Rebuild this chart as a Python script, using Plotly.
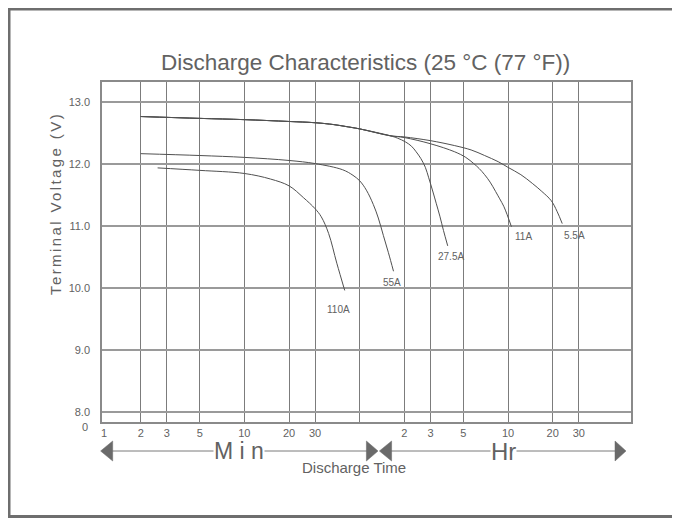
import numpy as np
import plotly.graph_objects as go

# ---- data (discharge time in minutes, terminal voltage in V) ----
series_names = ["110A", "55A", "27.5A", "11A", "5.5A"]

t_110A = [2.6, 5, 10, 15, 20, 25, 30, 33, 37, 42, 47.5]
v_110A = [11.94, 11.90, 11.85, 11.76, 11.65, 11.46, 11.28, 11.15, 10.88, 10.40, 9.96]

t_55A = [2, 5, 10, 20, 30, 46, 54, 60, 66.5, 74, 80, 86.5, 93.6, 101.3]
v_55A = [12.17, 12.14, 12.11, 12.06, 12.01, 11.91, 11.82, 11.73, 11.58, 11.35, 11.13, 10.85, 10.57, 10.27]

t_27_5A = [2, 5, 10, 20, 30, 40, 48, 60, 96, 108, 122, 134, 144, 155, 166, 175, 187, 197, 208, 220, 235]
v_27_5A = [12.77, 12.74, 12.72, 12.69, 12.67, 12.64, 12.61, 12.57, 12.46, 12.42, 12.36, 12.29, 12.20, 12.09,
           11.95, 11.78, 11.55, 11.36, 11.16, 10.93, 10.68]

t_11A = [2, 5, 10, 20, 30, 40, 48, 60, 96, 120, 180, 262, 311, 352, 383, 417, 454, 494, 527, 561, 590, 632]
v_11A = [12.77, 12.74, 12.72, 12.69, 12.67, 12.64, 12.61, 12.57, 12.46, 12.43, 12.33, 12.20, 12.11, 12.01,
         11.93, 11.83, 11.71, 11.56, 11.44, 11.32, 11.19, 10.99]

t_5_5A = [2, 5, 10, 20, 30, 40, 48, 60, 96, 120, 180, 262, 338, 417, 515, 598, 732, 874, 1013, 1173, 1282, 1391]
v_5_5A = [12.77, 12.74, 12.72, 12.69, 12.67, 12.64, 12.61, 12.57, 12.46, 12.44, 12.38, 12.30, 12.23, 12.14,
          12.04, 11.95, 11.83, 11.69, 11.56, 11.41, 11.24, 11.04]

x_tickvals = [2, 3, 5, 10, 20, 30, 60, 120, 180, 300, 600, 1200, 1800]
x_ticktext = ["2", "3", "5", "10", "20", "30", "", "2", "3", "5", "10", "20", "30"]
y_tickvals = [8, 9, 10, 11, 12, 13]
y_ticktext = ["8.0", "9.0", "10.0", "11.0", "12.0", "13.0"]

title_text = "Discharge Characteristics (25 °C (77 °F))"
ytitle_text = "Terminal Voltage (V)"
xtitle_text = "Discharge Time"

# ---- styling ----
FONT = "Liberation Sans, Arial, sans-serif"
TXT = "#626262"
CURVE = "#505050"
OFF = 8                      # page body offset of the figure
W, H = 680 - OFF, 518 - OFF  # figure size
L, R, T, B = 102, 631, 82, 422  # plot area in window pixels


def px(x):
    return (x - L) / (R - L)


def py(y):
    return (B - y) / (B - T)


fig = go.Figure()

curves = [(t_110A, v_110A, "110A", (-6, -19)),
          (t_55A, v_55A, "55A", (-2, -11)),
          (t_27_5A, v_27_5A, "27.5A", (3, -11)),
          (t_11A, v_11A, "11A", (12, -10)),
          (t_5_5A, v_5_5A, "5.5A", (12, -12))]

annotations = []
for t, v, name, (dx, dy) in curves:
    fig.add_trace(go.Scatter(x=t, y=v, mode="lines", name=name,
                             line=dict(color=CURVE, width=1, shape="spline", smoothing=1.0),
                             showlegend=False, hoverinfo="skip"))
    annotations.append(dict(x=np.log10(t[-1]), y=v[-1], xref="x", yref="y",
                            text=name, showarrow=False, xshift=dx, yshift=dy,
                            font=dict(family=FONT, size=10, color=TXT)))

annotations += [
    dict(x=px(365), y=py(63), xref="paper", yref="paper", text=title_text, showarrow=False,
         font=dict(family=FONT, size=22.5, color=TXT), xanchor="center", yanchor="middle"),
    dict(x=px(55), y=py(204), xref="paper", yref="paper",
         text='<span style="letter-spacing:2.4px">' + ytitle_text + '</span>', showarrow=False,
         textangle=-90, font=dict(family=FONT, size=15, color=TXT), xanchor="center", yanchor="middle"),
    dict(x=px(354), y=py(467), xref="paper", yref="paper", text=xtitle_text, showarrow=False,
         font=dict(family=FONT, size=15, color=TXT), xanchor="center", yanchor="middle"),
    dict(x=px(238.5), y=py(451.5), xref="paper", yref="paper", text="M i n", showarrow=False,
         font=dict(family=FONT, size=23, color=TXT), xanchor="center", yanchor="middle",
         bgcolor="white", borderpad=0),
    dict(x=px(503.5), y=py(451.5), xref="paper", yref="paper", text="Hr", showarrow=False,
         font=dict(family=FONT, size=24, color=TXT), xanchor="center", yanchor="middle",
         bgcolor="white", borderpad=0),
    dict(x=px(104), y=py(433), xref="paper", yref="paper", text="1", showarrow=False,
         font=dict(family=FONT, size=11, color=TXT), xanchor="center", yanchor="middle"),
    dict(x=px(90), y=py(427), xref="paper", yref="paper", text="0", showarrow=False,
         font=dict(family=FONT, size=11, color=TXT), xanchor="right", yanchor="middle"),
]

FRAME = "#6e6e6e"
ARROW = "#6a6a6a"
LINE = "#7a7a7a"
ay = 451
shapes = [
    # outer frame
    dict(type="rect", xref="paper", yref="paper", x0=px(OFF), x1=px(690), y0=py(OFF), y1=py(OFF + 2.5),
         fillcolor=FRAME, line=dict(width=0)),
    dict(type="rect", xref="paper", yref="paper", x0=px(OFF), x1=px(OFF + 2.5), y0=py(OFF), y1=py(520),
         fillcolor=FRAME, line=dict(width=0)),
    dict(type="rect", xref="paper", yref="paper", x0=px(OFF), x1=px(690), y0=py(515), y1=py(520),
         fillcolor=FRAME, line=dict(width=0)),
    # arrow lines
    dict(type="line", xref="paper", yref="paper", x0=px(112), x1=px(367), y0=py(ay), y1=py(ay),
         line=dict(color=LINE, width=1)),
    dict(type="line", xref="paper", yref="paper", x0=px(391), x1=px(616), y0=py(ay), y1=py(ay),
         line=dict(color=LINE, width=1)),
]


def tri(tip, base, half=10):
    return (f"M {px(tip)},{py(ay)} L {px(base)},{py(ay - half)} "
            f"L {px(base)},{py(ay + half)} Z")


for tip, base in [(100.6, 112.7), (378, 366.4), (379.4, 391.6), (626, 615)]:
    shapes.append(dict(type="path", xref="paper", yref="paper", path=tri(tip, base),
                       fillcolor=ARROW, line=dict(color=ARROW, width=0.5)))

fig.update_layout(
    width=W, height=H,
    margin=dict(l=L - OFF, r=W - (R - OFF), t=T - OFF, b=H - (B - OFF)),
    paper_bgcolor="white", plot_bgcolor="white",
    showlegend=False,
    annotations=annotations,
    shapes=shapes,
    xaxis=dict(type="log", range=[0.04, 3.607],
               tickvals=x_tickvals, ticktext=x_ticktext,
               showgrid=True, gridcolor="#7c7c7c", gridwidth=1.2,
               showline=True, linecolor="#8a8a8a", linewidth=1.5, mirror=True,
               ticks="", zeroline=False,
               tickfont=dict(family=FONT, size=11, color=TXT)),
    yaxis=dict(range=[7.834, 13.328],
               tickvals=y_tickvals, ticktext=y_ticktext,
               showgrid=True, gridcolor="#9a9a9a", gridwidth=1.6,
               showline=True, linecolor="#8a8a8a", linewidth=1.5, mirror=True,
               ticks="", zeroline=False, ticklabelstandoff=8,
               tickfont=dict(family=FONT, size=11, color=TXT)),
)

fig.write_html("out.html")
